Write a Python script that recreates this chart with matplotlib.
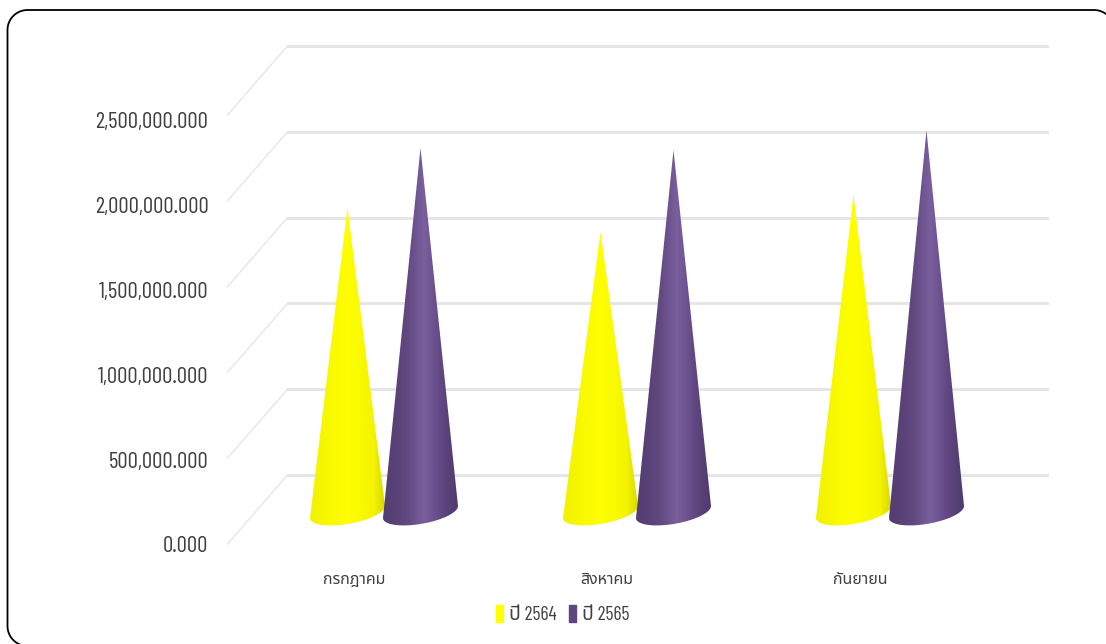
import matplotlib
matplotlib.use("Agg")
import matplotlib.pyplot as plt
import numpy as np
from matplotlib.colors import LinearSegmentedColormap
from matplotlib.lines import Line2D
from matplotlib.patches import Patch, Polygon
from matplotlib.transforms import IdentityTransform

plt.rcParams["font.family"] = ["Barlow Condensed", "Noto Sans Thai", "DejaVu Sans"]

months = ["กรกฎาคม", "สิงหาคม", "กันยายน"]
series_names = ["ปี 2564", "ปี 2565"]
values_2564 = [1757000, 1617000, 1833000]
values_2565 = [2107000, 2095000, 2210000]
y_ticks = [0, 500000, 1000000, 1500000, 2000000, 2500000]

W, H = 1106, 644
PX_X = 253.0  # pixels per category
PX_Y = 171.6e-6  # pixels per unit of value
X0, Y0 = 384.0, 509.5  # pixel position of category 0, value 0 at mid depth

TEXT = "#404040"
GRID = "#e4e4e4"
yellow = LinearSegmentedColormap.from_list(
    "y", [(0, "#f2f200"), (0.5, "#ffff00"), (0.85, "#f4f400"), (1, "#d8d800")]
)
purple = LinearSegmentedColormap.from_list(
    "p", [(0, "#523c70"), (0.3, "#60477f"), (0.55, "#7a5f9e"), (0.8, "#5f4680"), (1, "#4f3a6e")]
)

fig = plt.figure(figsize=(W / 100, H / 100), dpi=100)
ax = fig.add_axes([0, 0, 1, 1])
ax.axis("off")
xlim = (-X0 / PX_X, (W - X0) / PX_X)
ylim = ((Y0 - H) / PX_Y, Y0 / PX_Y)

# depth of the floor, as an offset from the middle of the box
dx = 30 / PX_X
dy = 34.5 / PX_Y

for tick in y_ticks:
    # back wall line and side wall line
    ax.plot([-0.5 + dx, 2.5 + dx], [tick + dy, tick + dy], color=GRID, lw=2, zorder=1)
    ax.plot([-0.5 - dx, -0.5 + dx], [tick - dy, tick + dy], color="#e6e6e6", lw=1, zorder=1)
    # labels sit a little tighter than the lines in the original
    ax.text(-0.5 - dx - 19 / PX_X, tick * 0.99 - dy - 3 / PX_Y, f"{tick:,.3f}", ha="right", va="center",
            fontsize=16.5, color=TEXT)


def draw_cone(center, value, cmap):
    half = 37.5 / PX_X
    t = np.linspace(0, np.pi, 80)
    xs = center + half * np.cos(t)
    ys = (-2.5 - 12 * np.sin(t) + 6 * np.cos(t)) / PX_Y
    verts = np.vstack([[center, value], np.column_stack([xs, ys])])
    im = ax.imshow(np.linspace(0, 1, 128)[None, :], cmap=cmap, aspect="auto",
                   extent=(center - half, center + half, -4e5, value), interpolation="bilinear", zorder=3)
    clip = Polygon(verts, closed=True, transform=ax.transData, facecolor="none", edgecolor="none")
    ax.add_patch(clip)
    im.set_clip_path(clip)


offset = 36.5 / PX_X
for i in range(len(months)):
    draw_cone(i - offset, values_2564[i], yellow)
    draw_cone(i + offset, values_2565[i], purple)
    ax.text(i - 30 / PX_X, -70.5 / PX_Y, months[i], ha="center", va="center", fontsize=11.5, color=TEXT)

ax.set_xlim(xlim)
ax.set_ylim(ylim)

handles = [Patch(color="#ffff00"), Patch(color="#5f4680")]
ax.legend(handles, series_names, ncol=2, frameon=False, loc="center", bbox_to_anchor=(562.5 / W, 1 - 614.5 / H),
          fontsize=14, labelcolor=TEXT, handlelength=0.37, handleheight=1.0, handletextpad=0.3,
          columnspacing=0.65, borderpad=0)

# rounded frame, runs off the right and bottom of the picture
r = 20
a = np.linspace(0, np.pi / 2, 20)
left, right, top, bottom = 7.5, 1114, H - 10, -2
xs = np.concatenate([left + r - r * np.cos(a)[::-1], left + r - r * np.cos(a), right - r + r * np.sin(a)])
ys = np.concatenate([bottom + r - r * np.sin(a)[::-1], top - r + r * np.sin(a), top - r + r * np.cos(a)])
fig.add_artist(Line2D(xs, ys, transform=IdentityTransform(), color="black", lw=1.3))

fig.savefig("out.png", dpi=100)
